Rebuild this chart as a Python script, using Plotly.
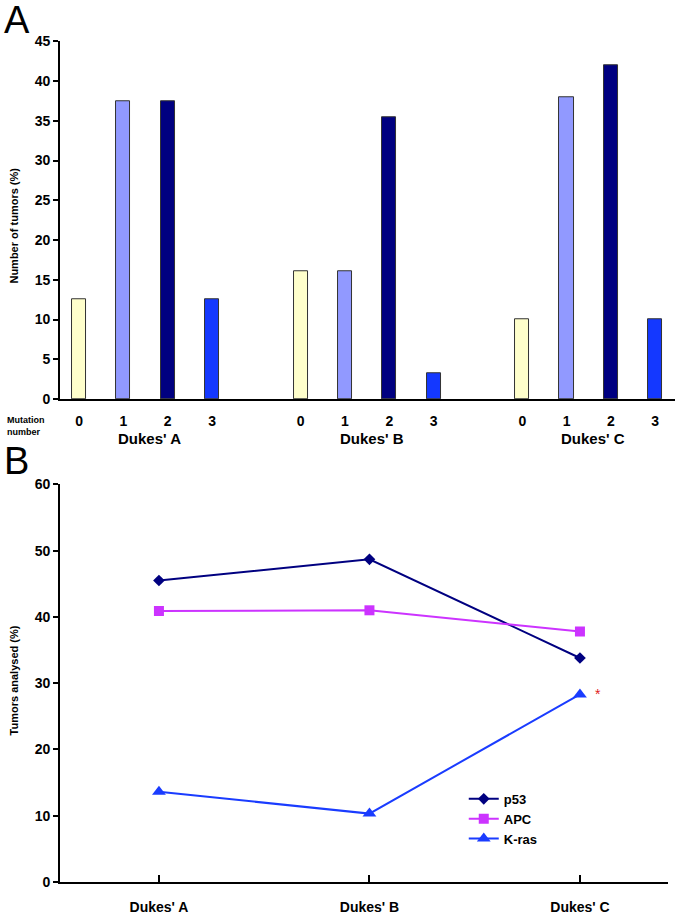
import plotly.graph_objects as go

# Panel A: share of tumours by number of mutations, per Dukes' stage
stages = ["Dukes' A", "Dukes' B", "Dukes' C"]
mutation_numbers = ['0', '1', '2', '3']
pct_mut0 = [12.5, 16.1, 10.0]
pct_mut1 = [37.5, 16.1, 38.0]
pct_mut2 = [37.5, 35.5, 42.0]
pct_mut3 = [12.5, 3.2, 10.0]

# Panel B: mutation frequency per gene
p53 = [45.5, 48.7, 33.8]
apc = [40.9, 41.0, 37.8]
kras = [13.6, 10.3, 28.3]

bar_colors = ['#FFFFCC', '#9199FF', '#000080', '#1438FF']
FONT = 'Liberation Sans, Arial'

fig = go.Figure()

# bars go at slot positions: 4 per stage with a 1-slot gap between stages
series = [pct_mut0, pct_mut1, pct_mut2, pct_mut3]
for k, vals in enumerate(series):
    xs = [g * 5 + k for g in range(len(stages))]
    fig.add_trace(go.Bar(
        x=xs, y=vals, width=0.32, showlegend=False,
        marker=dict(color=bar_colors[k], line=dict(color='#333333', width=1)),
        xaxis='x', yaxis='y'))

tick_pos = [g * 5 + k for g in range(len(stages)) for k in range(4)]
tick_txt = mutation_numbers * len(stages)

line_specs = [
    ('p53', p53, '#000080', 'diamond', 9),
    ('APC', apc, '#CC33FF', 'square', 10),
    ('K-ras', kras, '#1A3CFF', 'triangle-up', 12),
]
for name, vals, col, sym, size in line_specs:
    fig.add_trace(go.Scatter(
        x=[0, 1, 2], y=vals, name=name, mode='lines+markers',
        line=dict(color=col, width=2),
        marker=dict(symbol=sym, size=size, color=col),
        xaxis='x2', yaxis='y2'))

axis_font = dict(family=FONT, size=14, color='black', weight='bold')

fig.update_layout(
    width=682, height=915, autosize=False,
    margin=dict(l=0, r=0, t=0, b=0),
    paper_bgcolor='white', plot_bgcolor='white',
    bargap=0,
    xaxis=dict(domain=[0.088, 0.99], range=[-0.43, 13.45],
               tickvals=tick_pos, ticktext=tick_txt, ticks='',
               showline=True, linecolor='black', linewidth=2,
               showgrid=False, zeroline=False, tickfont=axis_font,
               anchor='y', ticklabelstandoff=8),
    yaxis=dict(domain=[0.565, 0.963], range=[0, 45], dtick=5,
               showline=True, linecolor='black', linewidth=2,
               ticks='outside', ticklen=5, tickwidth=2, tickcolor='black',
               showgrid=False, zeroline=False, tickfont=axis_font,
               anchor='x'),
    xaxis2=dict(domain=[0.088, 0.98], range=[-0.47, 2.42],
                tickvals=[0, 1, 2], ticktext=stages,
                ticks='inside', ticklen=7, tickwidth=2, tickcolor='black',
                showline=True, linecolor='black', linewidth=2,
                showgrid=False, zeroline=False,
                tickfont=dict(family=FONT, size=14, color='black', weight='bold'),
                anchor='y2', ticklabelstandoff=11),
    yaxis2=dict(domain=[0.028, 0.47], range=[0, 60], dtick=10,
                showline=True, linecolor='black', linewidth=2,
                ticks='outside', ticklen=5, tickwidth=2, tickcolor='black',
                showgrid=False, zeroline=False, tickfont=axis_font,
                anchor='x2'),
    legend=dict(x=0.68, y=0.137, xanchor='left', yanchor='top',
                bgcolor='rgba(0,0,0,0)',
                font=dict(family=FONT, size=13, color='black', weight='bold'),
                itemwidth=30),
)

ann = []
ann.append(dict(text='A', x=0.003, y=1.012, xref='paper', yref='paper',
                xanchor='left', yanchor='top', showarrow=False,
                font=dict(family='Liberation Sans', size=38, color='black')))
ann.append(dict(text='B', x=0.003, y=0.522, xref='paper', yref='paper',
                xanchor='left', yanchor='top', showarrow=False,
                font=dict(family='Liberation Sans', size=38, color='black')))
ann.append(dict(text='<b>Number of tumors (%)</b>', x=0.0205, y=0.758,
                xref='paper', yref='paper', textangle=-90, showarrow=False,
                xanchor='center', yanchor='middle',
                font=dict(family=FONT, size=11, color='black')))
ann.append(dict(text='<b>Tumors analysed (%)</b>', x=0.0205, y=0.252,
                xref='paper', yref='paper', textangle=-90, showarrow=False,
                xanchor='center', yanchor='middle',
                font=dict(family=FONT, size=11, color='black')))
ann.append(dict(text='<b>Mutation<br>number</b>', x=0.008, y=0.549,
                xref='paper', yref='paper', xanchor='left', yanchor='top',
                align='left', showarrow=False,
                font=dict(family=FONT, size=9, color='black')))
for g, st in enumerate(stages):
    ann.append(dict(text='<b>' + st + '</b>', x=g * 5 + 1.6, y=0.533,
                    xref='x', yref='paper', yanchor='top', showarrow=False,
                    font=dict(family=FONT, size=15, color='black')))
ann.append(dict(text='*', x=2.06, y=kras[2], xref='x2', yref='y2',
                xanchor='left', showarrow=False,
                font=dict(family='Liberation Sans', size=14, color='#E02020')))
fig.update_layout(annotations=ann)

# the page's default body margin would push the figure off the window
fig.write_html("out.html", config={'displayModeBar': False},
               post_script="document.body.style.margin='0';document.body.style.overflow='hidden';")
